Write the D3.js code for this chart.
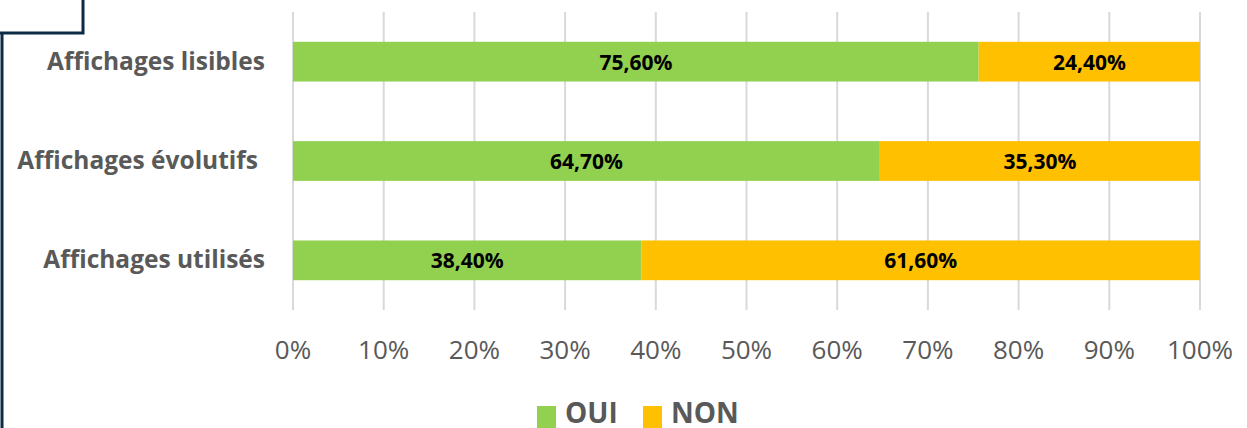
<html>
<meta charset="UTF-8">
<script src="https://d3js.org/d3.v7.min.js"></script>
<style>
    body { margin: 0; background: #fff; }
    text { font-family: "Open Sans", sans-serif; }
</style>
<body>
<svg width="1247" height="428" id="canvas"></svg>
<script>
    var categories = ["Affichages lisibles", "Affichages évolutifs", "Affichages utilisés"];
    var oui = [75.6, 64.7, 38.4];
    var non = [24.4, 35.3, 61.6];
    var ticks = [0, 10, 20, 30, 40, 50, 60, 70, 80, 90, 100];
    var seriesNames = ["OUI", "NON"];
    var colors = ["#92d050", "#ffc000"];

    var svg = d3.select("#canvas");

    // frame lines on the left
    svg.append("path")
        .attr("d", "M0,33 H83 V0 M2,33 V428")
        .attr("fill", "none")
        .attr("stroke", "#0d2a45")
        .attr("stroke-width", 3);

    var x = d3.scaleLinear().domain([0, 100]).range([293, 1200]);
    var y = d3.scaleBand().domain(categories).range([12, 310])
        .paddingInner(0.6).paddingOuter(0.3);

    // gridlines
    svg.append("g").selectAll("line")
        .data(ticks)
        .enter()
        .append("line")
        .attr("x1", d => x(d)).attr("x2", d => x(d))
        .attr("y1", 12).attr("y2", 310)
        .attr("stroke", "#d9d9d9")
        .attr("stroke-width", 2);

    // tick labels
    svg.append("g").selectAll("text")
        .data(ticks)
        .enter()
        .append("text")
        .attr("x", d => x(d))
        .attr("y", 359)
        .attr("text-anchor", "middle")
        .attr("font-size", 26)
        .attr("fill", "#595959")
        .text(d => d + "%");

    // category labels
    svg.append("g").selectAll("text")
        .data(categories)
        .enter()
        .append("text")
        .attr("x", (d, i) => i == 1 ? 258 : 265)
        .attr("y", d => y(d) + y.bandwidth() / 2 + 8)
        .attr("text-anchor", "end")
        .attr("font-size", 24.5)
        .attr("font-weight", "bold")
        .attr("fill", "#595959")
        .text(d => d);

    var rows = categories.map((c, i) => ({ cat: c, vals: [oui[i], non[i]] }));

    rows.forEach(function (r) {
        var start = 0;
        r.vals.forEach(function (v, j) {
            svg.append("rect")
                .attr("x", x(start))
                .attr("y", y(r.cat))
                .attr("width", x(start + v) - x(start))
                .attr("height", y.bandwidth())
                .attr("fill", colors[j]);
            svg.append("text")
                .attr("x", x(start + v / 2))
                .attr("y", y(r.cat) + y.bandwidth() / 2 + 8)
                .attr("text-anchor", "middle")
                .attr("font-size", 21)
                .attr("font-weight", "bold")
                .attr("fill", "#000")
                .text(v.toFixed(2).replace(".", ",") + "%");
            start += v;
        });
    });

    // legend
    var legX = [537, 643];
    seriesNames.forEach(function (s, i) {
        svg.append("rect")
            .attr("x", legX[i]).attr("y", 406)
            .attr("width", 19).attr("height", 22)
            .attr("fill", colors[i]);
        svg.append("text")
            .attr("x", legX[i] + 28).attr("y", 423)
            .attr("font-size", 28)
            .attr("font-weight", "bold")
            .attr("fill", "#595959")
            .text(s);
    });
</script>
</body>
</html>
